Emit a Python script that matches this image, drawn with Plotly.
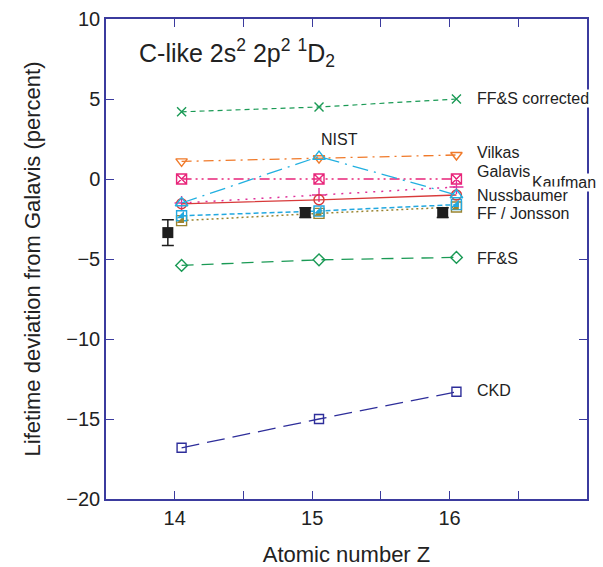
import plotly.graph_objects as go

# Atomic number of each ion in the sequence
Z = [14, 15, 16]

# Lifetime deviation from Galavis (percent), one list per calculation
ffs_corrected = [4.2, 4.5, 5.0]
vilkas = [1.1, 1.3, 1.5]
galavis = [0.0, 0.0, 0.0]
nist = [-1.5, 1.4, -1.0]
kaufman = [-1.55, -1.3, -1.0]
nussbaumer = [-1.5, -1.0, -0.5]
ff = [-2.3, -2.0, -1.6]
jonsson = [-2.6, -2.15, -1.75]
ffs = [-5.4, -5.05, -4.9]
ckd = [-16.8, -15.0, -13.3]

# Measured lifetimes with their uncertainties
experiment = [-3.35, -2.1, -2.1]
experiment_err = [0.8, 0.3, 0.3]

# Theory points are drawn slightly right of each Z, measurements slightly left
theory_shift = 0.05
exp_shift = -0.05
Zt = [z + theory_shift for z in Z]
Ze = [z + exp_shift for z in Z]

AXIS = "#3b3b9e"
TEXT = "#222222"
FONT = "Liberation Sans, Arial"

fig = go.Figure()


def series(y, color, dash, symbol, size=9, width=1.3):
    fig.add_trace(go.Scatter(
        x=Zt, y=y, mode="lines+markers",
        line=dict(color=color, width=width, dash=dash),
        marker=dict(symbol=symbol, size=size, color=color,
                    line=dict(color=color, width=1.4)),
        showlegend=False, hoverinfo="skip", cliponaxis=False,
    ))


series(ckd, "#2e2e9a", "18px,8px", "square-open", size=9)
series(ffs, "#1a9a55", "12px,8px", "diamond-open", size=9)
series(ffs_corrected, "#1a9a55", "5px,4px", "x-thin-open", size=9, width=1.2)
series(vilkas, "#f07a2a", "10px,5px,2px,5px", "triangle-down-open", size=10)
series(galavis, "#e8257a", "10px,4px,2px,4px,2px,4px", "square-x-open", size=10)
series(jonsson, "#9a8430", "2px,3px", "square-open", size=10, width=1.5)
series(ff, "#22a8e0", "5px,3px", "square-open", size=10, width=1.5)
series(nussbaumer, "#e0309a", "2px,6px", "cross-thin-open", size=10, width=1.5)
series(kaufman, "#d83a3a", "solid", "circle-open", size=10)
series(nist, "#22b0e0", "16px,6px,2px,6px", "triangle-up-open", size=11)

# Lower-right halves of the FF and Jonsson squares are filled
for y, color in [(jonsson, "#9a8430"), (ff, "#22a8e0")]:
    fig.add_trace(go.Scatter(
        x=Zt, y=y, mode="markers",
        marker=dict(symbol="triangle-se", size=8, color=color, line=dict(width=0)),
        showlegend=False, hoverinfo="skip", cliponaxis=False,
    ))

fig.add_trace(go.Scatter(
    x=Ze, y=experiment, mode="markers",
    marker=dict(symbol="square", size=11, color="#1e1e1e"),
    error_y=dict(type="data", array=experiment_err, color="#1e1e1e",
                 thickness=1.5, width=6),
    showlegend=False, hoverinfo="skip", cliponaxis=False,
))

labels = [
    ("FF&S corrected", 16.19, 5.05),
    ("Vilkas", 16.19, 1.65),
    ("Galavis", 16.19, 0.45),
    ("Kaufman", 16.59, -0.2),
    ("Nussbaumer", 16.19, -1.0),
    ("FF / Jonsson", 16.19, -2.15),
    ("FF&S", 16.19, -4.95),
    ("CKD", 16.19, -13.2),
]
for text, x, y in labels:
    fig.add_annotation(x=x, y=y, text=text, showarrow=False, xanchor="left",
                       yanchor="middle", bgcolor="white", borderpad=0,
                       font=dict(family=FONT, size=16, color=TEXT))

fig.add_annotation(x=15.2, y=2.5, text="NIST", showarrow=False, xanchor="center",
                   yanchor="middle", font=dict(family=FONT, size=16, color=TEXT))

fig.add_annotation(xref="paper", yref="paper", x=0.064, y=0.93,
                   text="C-like 2s<sup>2</sup> 2p<sup>2</sup> <sup>1</sup>D<sub>2</sub>",
                   showarrow=False, xanchor="left", yanchor="middle",
                   font=dict(family=FONT, size=25, color=TEXT))

fig.update_xaxes(
    range=[13.5, 17], tickvals=[14, 14.5, 15, 15.5, 16, 16.5],
    ticktext=["14", "", "15", "", "16", ""],
    ticks="inside", ticklen=8, tickcolor=AXIS, tickwidth=1.3,
    showline=True, linecolor=AXIS, linewidth=1.5, mirror="ticks",
    showgrid=False, zeroline=False, automargin=False,
    title=dict(text="Atomic number Z", standoff=20,
               font=dict(family=FONT, size=22, color=TEXT)),
    tickfont=dict(family=FONT, size=20, color=TEXT),
)
fig.update_yaxes(
    range=[-20, 10], tickvals=[-20, -15, -10, -5, 0, 5, 10],
    ticks="inside", ticklen=8, tickcolor=AXIS, tickwidth=1.3,
    showline=True, linecolor=AXIS, linewidth=1.5, mirror="ticks",
    showgrid=False, zeroline=False, automargin=False,
    title=dict(text="Lifetime deviation from Galavis (percent)", standoff=20,
               font=dict(family=FONT, size=22, color=TEXT)),
    tickfont=dict(family=FONT, size=20, color=TEXT),
)

fig.update_layout(
    width=603, height=567,
    margin=dict(l=106, r=16, t=19, b=68),
    plot_bgcolor="white", paper_bgcolor="white",
)

fig.write_html("out.html")
